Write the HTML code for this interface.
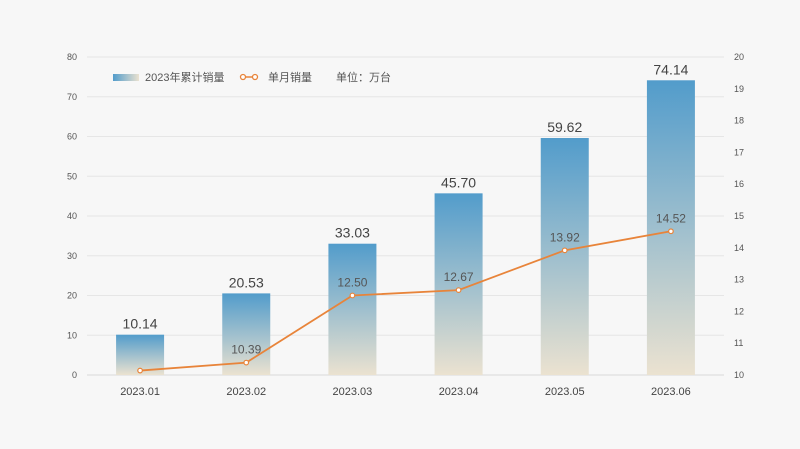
<!DOCTYPE html>
<html><head><meta charset="utf-8"><style>
html,body{margin:0;padding:0;background:#f7f7f7;}
svg{display:block;font-family:"Liberation Sans","Noto Sans CJK SC",sans-serif;}
</style></head><body>
<svg id="c" width="800" height="449">
<defs>
<linearGradient id="bg" x1="0" y1="0" x2="0" y2="1"><stop offset="0" stop-color="#529ccb"/><stop offset="1" stop-color="#ebe2d0"/></linearGradient>
<linearGradient id="lg" x1="0" y1="0" x2="1" y2="0"><stop offset="0" stop-color="#529ccb"/><stop offset="1" stop-color="#ebe2d0"/></linearGradient>
</defs>
<g id="grid"></g><g id="bars"></g><g id="line"></g>
<g>
<rect x="113" y="74" width="26" height="7" fill="url(#lg)"/>
<text x="145" y="81" font-size="11" fill="#555">2023年累计销量</text>
<line x1="241" y1="77" x2="257" y2="77" stroke="#e8843a" stroke-width="1.5"/>
<circle cx="243" cy="77" r="2.5" fill="#fff" stroke="#e8843a" stroke-width="1.3"/>
<circle cx="255" cy="77" r="2.5" fill="#fff" stroke="#e8843a" stroke-width="1.3"/>
<text x="268" y="81" font-size="11" fill="#555">单月销量</text>
<text x="336" y="81" font-size="11" fill="#555">单位：万台</text>
</g>
</svg>
<script>
const categories=["2023.01","2023.02","2023.03","2023.04","2023.05","2023.06"];
const cumulative=[10.14,20.53,33.03,45.70,59.62,74.14];
const monthly=[10.14,10.39,12.50,12.67,13.92,14.52];
const leftTicks=[0,10,20,30,40,50,60,70,80];
const rightTicks=[10,11,12,13,14,15,16,17,18,19,20];
const NS="http://www.w3.org/2000/svg";
const X0=87,X1=724,Y0=375,Y1=57;
const bw=(X1-X0)/categories.length;
const xc=i=>X0+bw*(i+0.5);
const yl=v=>Y0-(v-0)/(80-0)*(Y0-Y1);
const yr=v=>Y0-(v-10)/(20-10)*(Y0-Y1);
function mk(t,a,p){const e=document.createElementNS(NS,t);for(const k in a)e.setAttribute(k,a[k]);p.appendChild(e);return e;}
const g=document.getElementById('grid'),b=document.getElementById('bars'),l=document.getElementById('line');
leftTicks.forEach(v=>{
 const ln=mk('line',{x1:X0,x2:X1,y1:yl(v),y2:yl(v),stroke:v===0?'#d8d8d8':'#e6e6e6','stroke-width':1},g);
 
 
 const t=mk('text',{x:77,y:yl(v)+3,'font-size':9,fill:'#555','text-anchor':'end'},g);t.textContent=v;
 
 
});
rightTicks.forEach(v=>{
 const t=mk('text',{x:734,y:yr(v)+3,'font-size':9,fill:'#555'},g);t.textContent=v;
 
 
});
categories.forEach((c,i)=>{
 const t=mk('text',{x:xc(i),y:395,'font-size':11,fill:'#444','text-anchor':'middle'},g);t.textContent=c;
 
 
 const r=mk('rect',{x:xc(i)-24,y:yl(cumulative[i]),width:48,height:Y0-yl(cumulative[i]),fill:'url(#bg)'},b);
 
 
 const bt=mk('text',{x:xc(i),y:yl(cumulative[i])-6,'font-size':14,fill:'#444','text-anchor':'middle'},b);bt.textContent=cumulative[i].toFixed(2);
 
 
});
const pl=mk('polyline',{points:monthly.map((v,i)=>xc(i)+','+yr(v)).join(' '),fill:'none',stroke:'#e8843a','stroke-width':1.8},l);


monthly.forEach((v,i)=>{
 const c=mk('circle',{cx:xc(i),cy:yr(v),r:2.3,fill:'#fff',stroke:'#e8843a','stroke-width':1.2},l);
 
 
 if(i>0){const t=mk('text',{x:xc(i),y:yr(v)-9,'font-size':12,fill:'#555','text-anchor':'middle'},l);t.textContent=v.toFixed(2);
 
 }
});
</script>
</body></html>
